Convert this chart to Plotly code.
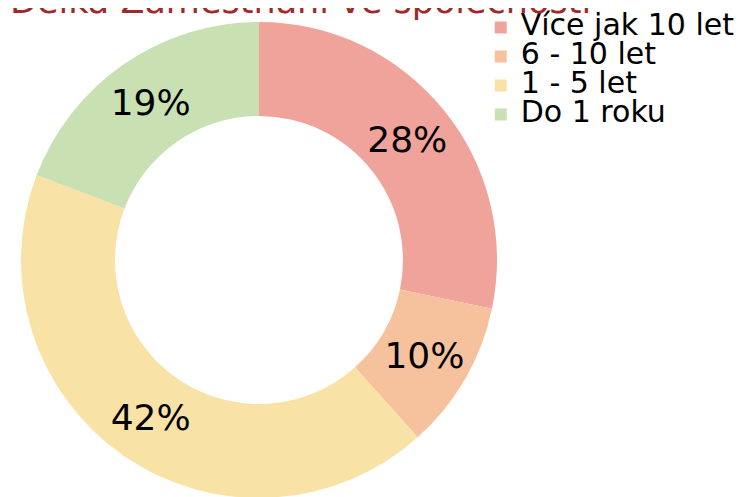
import plotly.graph_objects as go

## chart data
labels = ["Více jak 10 let", "6 - 10 let", "1 - 5 let", "Do 1 roku"]
values = [28, 10, 42, 19]
colors = ["#F0A39A", "#F6C29E", "#F9E2A6", "#C8E0B2"]
title = "Délka Zaměstnání ve společnosti"

W, H = 754, 497

# legend rows are tight in the reference, so the legend font stays small
# and the label text itself is drawn larger
legend_text = ['<span style="font-size:30px">%s</span>' % s for s in labels]

fig = go.Figure(
    go.Pie(
        labels=legend_text,
        values=values,
        hole=0.605,
        sort=False,
        direction="clockwise",
        rotation=0,
        marker=dict(colors=colors, line=dict(width=0)),
        textinfo="percent",
        texttemplate="%{percent:.0%}",
        textposition="inside",
        insidetextorientation="horizontal",
        textfont=dict(family="DejaVu Sans", size=36, color="#000000"),
        domain=dict(x=[13 / W, 489 / W], y=[7 / H, 483 / H]),
    )
)

fig.update_layout(
    width=W,
    height=H,
    margin=dict(l=0, r=0, t=0, b=0),
    paper_bgcolor="white",
    plot_bgcolor="white",
    uniformtext=dict(minsize=36, mode="show"),
    legend=dict(
        x=0.627,
        y=1.0,
        xanchor="left",
        yanchor="top",
        font=dict(family="DejaVu Sans", size=20, color="#000000"),
        bgcolor="rgba(0,0,0,0)",
        itemwidth=30,
    ),
)

# title sits half outside the top edge, as in the reference
fig.add_annotation(
    text=title,
    x=0,
    y=1.0,
    xref="paper",
    yref="paper",
    xanchor="left",
    yanchor="middle",
    yshift=7,
    showarrow=False,
    font=dict(family="DejaVu Sans", size=35, color="#9E2B2B"),
)

fig.write_html("out.html")
